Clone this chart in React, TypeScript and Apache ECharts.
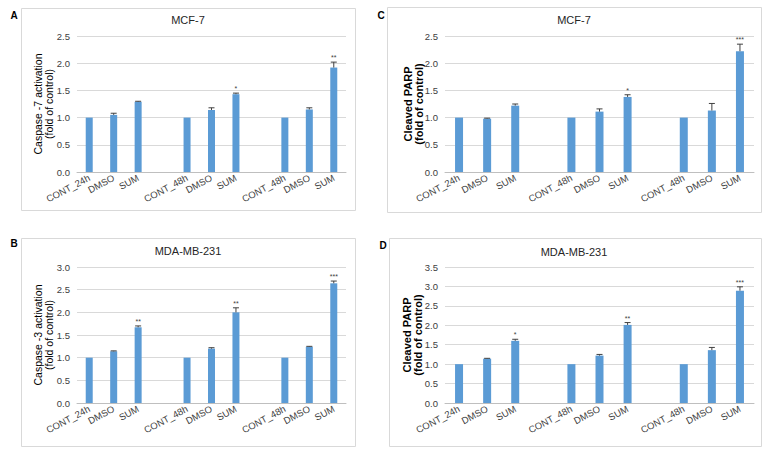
import React, { useEffect, useRef } from "react";
import * as echarts from "echarts";

const categories = ["CONT_24h", "DMSO", "SUM", "CONT_48h", "DMSO", "SUM", "CONT_48h", "DMSO", "SUM"];

// Panel A: MCF-7 Caspase-7
const casp7Mean = [1.0, 1.05, 1.29, 1.0, 1.14, 1.43, 1.0, 1.15, 1.92];
const casp7Err = [0, 0.03, 0.01, 0, 0.04, 0.02, 0, 0.03, 0.1];
const casp7Sig = ["", "", "", "", "", "*", "", "", "**"];

// Panel C: MCF-7 Cleaved PARP
const parpMcfMean = [1.0, 0.98, 1.22, 1.0, 1.11, 1.38, 1.0, 1.13, 2.22];
const parpMcfErr = [0, 0.01, 0.03, 0, 0.05, 0.04, 0, 0.13, 0.13];
const parpMcfSig = ["", "", "", "", "", "*", "", "", "***"];

// Panel B: MDA-MB-231 Caspase-3
const casp3Mean = [1.0, 1.14, 1.67, 1.0, 1.2, 2.0, 1.0, 1.24, 2.64];
const casp3Err = [0, 0.01, 0.03, 0, 0.02, 0.1, 0, 0.01, 0.05];
const casp3Sig = ["", "", "**", "", "", "**", "", "", "***"];

// Panel D: MDA-MB-231 Cleaved PARP
const parpMdaMean = [1.0, 1.14, 1.6, 1.0, 1.22, 2.01, 1.0, 1.36, 2.89];
const parpMdaErr = [0, 0.01, 0.04, 0, 0.03, 0.06, 0, 0.07, 0.1];
const parpMdaSig = ["", "", "*", "", "", "**", "", "", "***"];

const yMaxA = 2.5, yMaxC = 2.5, yMaxB = 3.0, yMaxD = 3.5;

// axis categories with blank slots between groups
const axisCats = [...categories.slice(0, 3), "", ...categories.slice(3, 6), "", ...categories.slice(6, 9)];
const slotIndex = [0, 1, 2, 4, 5, 6, 8, 9, 10];

const FONT = "Liberation Sans, Arial, sans-serif";
const BAR = "#5b9bd5";

export default function App() {
  const ref = useRef<HTMLDivElement>(null);
  useEffect(() => {
    if (!ref.current) return;
    const chart = echarts.init(ref.current, null, { renderer: "svg" });

    const panels = [
      { mean: casp7Mean, err: casp7Err, sig: casp7Sig, max: yMaxA, grid: { left: 77, top: 36, width: 269, height: 136 }, bw: 7 },
      { mean: parpMcfMean, err: parpMcfErr, sig: parpMcfSig, max: yMaxC, grid: { left: 445, top: 36, width: 309, height: 136 }, bw: 8 },
      { mean: casp3Mean, err: casp3Err, sig: casp3Sig, max: yMaxB, grid: { left: 77, top: 267, width: 269, height: 136 }, bw: 7 },
      { mean: parpMdaMean, err: parpMdaErr, sig: parpMdaSig, max: yMaxD, grid: { left: 445, top: 267, width: 309, height: 136 }, bw: 8 },
    ];

    const grids: any[] = [];
    const xAxes: any[] = [];
    const yAxes: any[] = [];
    const series: any[] = [];

    panels.forEach((p, k) => {
      grids.push({ ...p.grid, containLabel: false });
      xAxes.push({
        type: "category",
        gridIndex: k,
        data: axisCats,
        axisLine: { lineStyle: { color: "#bfbfbf", width: 1 } },
        axisTick: { show: false },
        axisLabel: { interval: 0, rotate: 28, fontSize: 9.5, color: "#404040", fontFamily: FONT, margin: 5 },
      });
      yAxes.push({
        type: "value",
        gridIndex: k,
        min: 0,
        max: p.max,
        interval: 0.5,
        axisLine: { show: false },
        axisTick: { show: false },
        splitLine: { lineStyle: { color: "#d9d9d9", width: 1 } },
        axisLabel: { fontSize: 9.5, color: "#404040", fontFamily: FONT, margin: 7, formatter: (v: number) => v.toFixed(1) },
      });
      const barData = axisCats.map(() => null as number | null);
      p.mean.forEach((v, i) => (barData[slotIndex[i]] = v));
      series.push({
        type: "bar",
        xAxisIndex: k,
        yAxisIndex: k,
        data: barData,
        barWidth: p.bw,
        itemStyle: { color: BAR },
      });
      const sig = p.sig;
      series.push({
        type: "custom",
        xAxisIndex: k,
        yAxisIndex: k,
        data: p.mean.map((v, i) => [slotIndex[i], v, p.err[i]]),
        encode: { x: 0, y: 1 },
        z: 5,
        renderItem: (params: any, api: any) => {
          const x = api.value(0);
          const v = api.value(1);
          const e = api.value(2);
          const top = api.coord([x, v + e]);
          const bot = api.coord([x, v]);
          const children: any[] = [];
          if (e > 0) {
            children.push({ type: "line", shape: { x1: top[0], y1: top[1], x2: bot[0], y2: bot[1] }, style: { stroke: "#404040", lineWidth: 1 } });
            children.push({ type: "line", shape: { x1: top[0] - 3, y1: top[1], x2: top[0] + 3, y2: top[1] }, style: { stroke: "#404040", lineWidth: 1 } });
          }
          const s = sig[params.dataIndex];
          if (s) {
            children.push({
              type: "text",
              x: top[0],
              y: top[1] - 1,
              style: { text: s, fontSize: 7, fontFamily: FONT, fill: "#404040", align: "center", verticalAlign: "bottom" },
            });
          }
          return { type: "group", children };
        },
      });
    });

    const border = (x: number, y: number, w: number, h: number) => ({
      type: "rect",
      shape: { x, y, width: w, height: h },
      style: { fill: "none", stroke: "#d9d9d9", lineWidth: 1 },
      z: 0,
    });
    const txt = (text: string, x: number, y: number, size: number, bold: boolean, rot = 0, color = "#262626", lh = size * 1.1) => ({
      type: "text",
      x,
      y,
      rotation: rot,
      style: { text, fontSize: size, fontWeight: bold ? "bold" : "normal", fontFamily: FONT, fill: color, align: "center", verticalAlign: "middle", lineHeight: lh },
    });

    const graphic = [
      border(21.5, 8.5, 334, 202),
      border(387.5, 7.5, 374, 205),
      border(21.5, 238.5, 334, 208),
      border(389.5, 238.5, 372, 208),
      txt("A", 14, 15, 10, true, 0, "#000"),
      txt("C", 381, 15, 10, true, 0, "#000"),
      txt("B", 14, 243, 10, true, 0, "#000"),
      txt("D", 383, 245, 10, true, 0, "#000"),
      txt("MCF-7", 188, 20, 11, false),
      txt("MCF-7", 574, 20, 11, false),
      txt("MDA-MB-231", 188, 251, 11, false),
      txt("MDA-MB-231", 574, 252, 11, false),
      txt("Caspase -7 activation\n(fold of control)", 43, 104, 10.5, false, Math.PI / 2, "#000", 11),
      txt("Cleaved PARP\n(fold of control)", 413, 104, 11, true, Math.PI / 2, "#000", 11),
      txt("Caspase -3 activation\n(fold of control)", 43, 335, 10.5, false, Math.PI / 2, "#000", 11),
      txt("Cleaved PARP\n(fold of control)", 412, 335, 11, true, Math.PI / 2, "#000", 11),
    ];

    chart.setOption({
      animation: false,
      backgroundColor: "#ffffff",
      grid: grids,
      xAxis: xAxes,
      yAxis: yAxes,
      series,
      graphic,
    });
    return () => chart.dispose();
  }, []);
  return <div ref={ref} style={{ position: "fixed", left: 0, top: 0, width: 771, height: 458 }} />;
}
